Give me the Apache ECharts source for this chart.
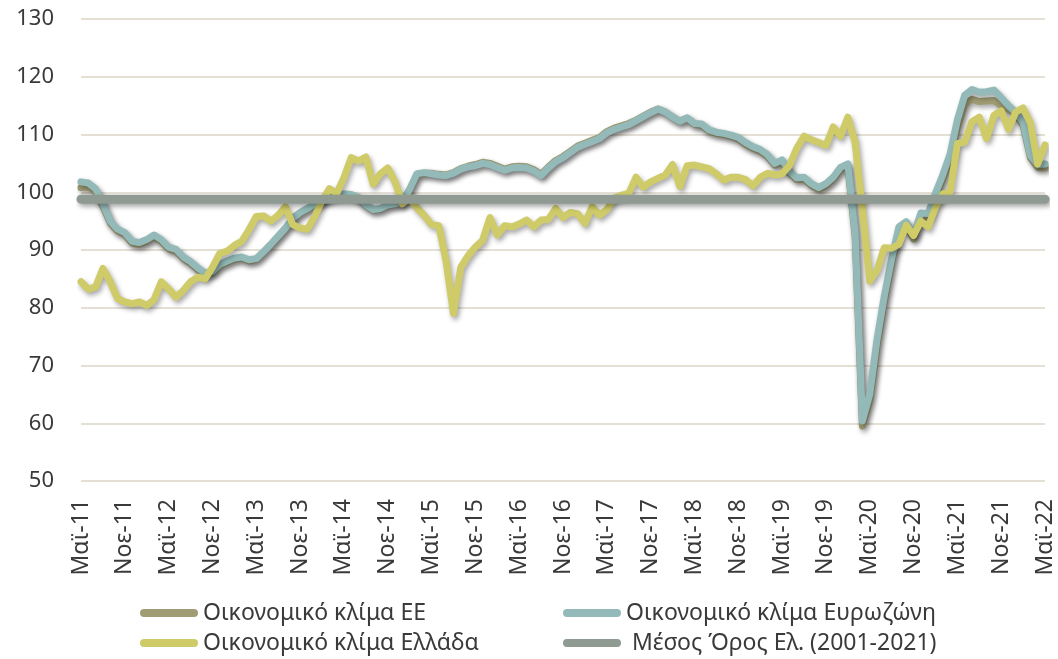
<!DOCTYPE html>
<html>
<head>
    <meta charset="utf-8">
    <title>Οικονομικό κλίμα</title>
    <script src="https://cdn.jsdelivr.net/npm/echarts@6/dist/echarts.min.js"></script>
    <style>
        html, body { margin: 0; padding: 0; background: #fff; }
        #main { width: 1058px; height: 659px; }
    </style>
</head>
<body>
<div id="main"></div>

<script type="text/javascript">
    // μήνες Μάι-2011 ... Μάι-2022 (133 μήνες)
    var monthNames = ['Ιαν', 'Φεβ', 'Μαρ', 'Απρ', 'Μαϊ', 'Ιουν', 'Ιουλ', 'Αυγ', 'Σεπ', 'Οκτ', 'Νοε', 'Δεκ'];
    var months = [];
    for (var k = 0; k < 133; k++) {
        var m = (4 + k) % 12;
        var yy = 11 + Math.floor((4 + k) / 12);
        months.push(monthNames[m] + '-' + yy);
    }

    var yTicks = [50, 60, 70, 80, 90, 100, 110, 120, 130];

    var names = ['Οικονομικό κλίμα ΕΕ', 'Οικονομικό κλίμα Ευρωζώνη', 'Οικονομικό κλίμα Ελλάδα', 'Μέσος Όρος Ελ. (2001-2021)'];

    var esiEU = [
        100.8, 100.9, 100.2, 97.6, 94.7, 93.3, 92.7, 91.2, 91.0, 91.5, 92.3, 91.5,
        90.2, 89.8, 88.5, 87.7, 86.6, 85.8, 86.1, 87.3, 87.9, 88.4, 88.6, 88.1,
        88.4, 89.6, 90.9, 92.3, 93.7, 95.4, 96.4, 97.1, 97.9, 98.6, 99.1, 99.5,
        99.6, 99.5, 99.0, 97.7, 96.9, 97.1, 97.7, 97.9, 98.2, 100.4, 103.0, 103.3,
        103.3, 103.1, 103.0, 103.4, 104.1, 104.5, 104.8, 105.2, 105.0, 104.5, 104.0, 104.4,
        104.5, 104.4, 103.9, 103.1, 104.4, 105.5, 106.2, 107.1, 108.0, 108.5, 109.0, 109.5,
        110.5, 111.1, 111.5, 111.9, 112.5, 113.2, 113.9, 114.4, 113.9, 113.0, 112.3, 112.8,
        111.8, 111.6, 110.6, 110.2, 110.0, 109.7, 109.2, 108.3, 107.6, 107.1, 106.2, 104.7,
        105.3, 103.3, 102.2, 102.3, 101.2, 100.5, 101.2, 102.3, 104.0, 104.6, 92.5, 59.5,
        64.0, 73.5, 81.2, 87.8, 93.4, 94.3, 91.9, 95.8, 95.8, 99.2, 102.4, 105.8,
        111.2, 115.2, 116.1, 115.7, 115.8, 115.9, 115.0, 114.4, 113.5, 111.6, 106.0, 104.3, 104.2
    ];

    var esiEA = [
        101.8, 101.6, 100.6, 98.0, 95.0, 93.6, 93.0, 91.5, 91.3, 91.8, 92.6, 91.8,
        90.5, 90.1, 88.8, 88.0, 86.9, 86.0, 86.3, 87.5, 88.1, 88.6, 88.8, 88.3,
        88.5, 89.7, 91.0, 92.4, 93.8, 95.5, 96.5, 97.2, 98.0, 98.7, 99.2, 99.6,
        99.7, 99.6, 99.1, 97.8, 97.0, 97.2, 97.8, 98.0, 98.3, 100.5, 103.2, 103.4,
        103.2, 103.0, 102.9, 103.3, 104.0, 104.4, 104.6, 105.0, 104.8, 104.3, 103.8, 104.2,
        104.3, 104.2, 103.7, 102.9, 104.2, 105.3, 106.0, 106.9, 107.8, 108.3, 108.8, 109.3,
        110.3, 110.9, 111.3, 111.7, 112.4, 113.1, 113.8, 114.4, 113.9, 113.0, 112.3, 112.9,
        111.9, 111.8, 110.8, 110.4, 110.2, 109.9, 109.5, 108.6, 107.9, 107.4, 106.5, 105.0,
        105.6, 103.6, 102.5, 102.6, 101.5, 100.8, 101.5, 102.6, 104.3, 104.9, 93.0, 60.4,
        65.0, 74.5, 82.0, 88.5, 94.0, 94.9, 92.6, 96.4, 96.3, 99.8, 103.0, 106.6,
        112.5, 116.8, 117.8, 117.3, 117.4, 117.7, 116.4, 115.0, 113.8, 112.0, 106.4, 104.8, 104.9
    ];

    var esiGR = [
        84.5, 83.2, 83.6, 86.8, 84.5, 81.6, 81.0, 80.7, 81.0, 80.4, 81.4, 84.5,
        83.3, 81.8, 83.0, 84.5, 85.3, 85.0, 87.0, 89.4, 89.8, 90.8, 91.5, 93.5,
        95.8, 95.9, 95.0, 96.0, 97.5, 94.4, 93.8, 93.6, 95.8, 98.5, 100.6, 99.8,
        102.5, 106.0, 105.4, 106.1, 101.4, 103.2, 104.2, 101.8, 98.0, 99.0, 97.3, 96.0,
        94.4, 94.2, 88.0, 79.0, 87.0, 89.0, 90.5, 91.7, 95.6, 92.6, 94.2, 94.0,
        94.5, 95.2, 94.0, 95.2, 95.3, 97.2, 95.6, 96.5, 96.3, 94.6, 97.5, 96.0,
        97.0, 99.0, 99.5, 99.8, 102.6, 100.9, 101.8, 102.4, 103.0, 104.8, 101.0, 104.6,
        104.7, 104.4, 104.1, 103.2, 102.1, 102.6, 102.6, 102.2, 101.1, 102.6, 103.3, 103.0,
        103.2, 104.6, 107.6, 109.7, 109.1, 108.6, 108.1, 111.3, 109.7, 113.0, 108.6, 97.0,
        84.6, 86.5, 90.4, 90.3, 91.0, 94.3, 92.5, 95.0, 94.0, 97.3, 99.7, 100.0,
        108.4, 108.7, 112.2, 113.0, 109.3, 113.3, 114.1, 110.9, 113.9, 114.6, 112.0, 104.9, 108.2
    ];

    // μέσος όρος Ελλάδας 2001-2021
    var meanGR = 98.8;

    var colors = ['#A09D75', '#93BAB8', '#CFCB69', '#8E9A92'];
    var fontName = '"Noto Sans", "DejaVu Sans", sans-serif';
    var capsule = 'path://M4,0 L54,0 A4,4 0 0 1 54,8 L4,8 A4,4 0 0 1 4,0 Z';

    function lineSeries(name, data, color, width) {
        return {
            name: name,
            type: 'line',
            data: data,
            symbol: 'none',
            smooth: false,
            color: color,
            lineStyle: {
                color: color,
                width: width,
                cap: 'round',
                join: 'round',
                shadowColor: 'rgba(0,0,0,0.35)',
                shadowBlur: 5,
                shadowOffsetX: 2,
                shadowOffsetY: 3
            },
            emphasis: { disabled: true }
        };
    }

    function legendBox(left, items, formatter) {
        var lg = {
            orient: 'vertical',
            left: left,
            top: 601,
            width: 440,
            height: 120,
            data: items,
            itemWidth: 58,
            itemHeight: 8,
            itemGap: 6,
            padding: 0,
            icon: capsule,
            selectedMode: false,
            textStyle: { fontFamily: fontName, fontSize: 23, color: '#3A3A3A', lineHeight: 24 }
        };
        if (formatter) lg.formatter = formatter;
        return lg;
    }

    var myChart = echarts.init(document.getElementById('main'));
    myChart.setOption({
        animation: false,
        backgroundColor: '#ffffff',
        grid: { left: 81, right: 13, top: 19, bottom: 178, containLabel: false },
        tooltip: { show: false },
        legend: [
            legendBox(140, [names[0], names[2]]),
            legendBox(563, [names[1], names[3]], function (n) { return n === names[3] ? ' ' + n : n; })
        ],
        xAxis: {
            type: 'category',
            data: months,
            boundaryGap: false,
            axisLine: { show: false },
            axisTick: { show: false },
            axisLabel: {
                interval: 5,
                rotate: 90,
                margin: 18,
                fontFamily: fontName,
                fontSize: 23,
                color: '#3A3A3A'
            },
            splitLine: { show: false }
        },
        yAxis: {
            type: 'value',
            min: yTicks[0],
            max: yTicks[yTicks.length - 1],
            interval: 10,
            axisLine: { show: false },
            axisTick: { show: false },
            axisLabel: {
                margin: 27,
                fontFamily: fontName,
                fontSize: 22,
                color: '#3A3A3A'
            },
            splitLine: { lineStyle: { color: '#E4E0D6', width: 2 } }
        },
        series: [
            lineSeries(names[0], esiEU, colors[0], 7),
            lineSeries(names[1], esiEA, colors[1], 7),
            lineSeries(names[2], esiGR, colors[2], 7),
            lineSeries(names[3], [[months[0], meanGR], [months[months.length - 1], meanGR]], colors[3], 9)
        ]
    });
</script>
</body>
</html>
